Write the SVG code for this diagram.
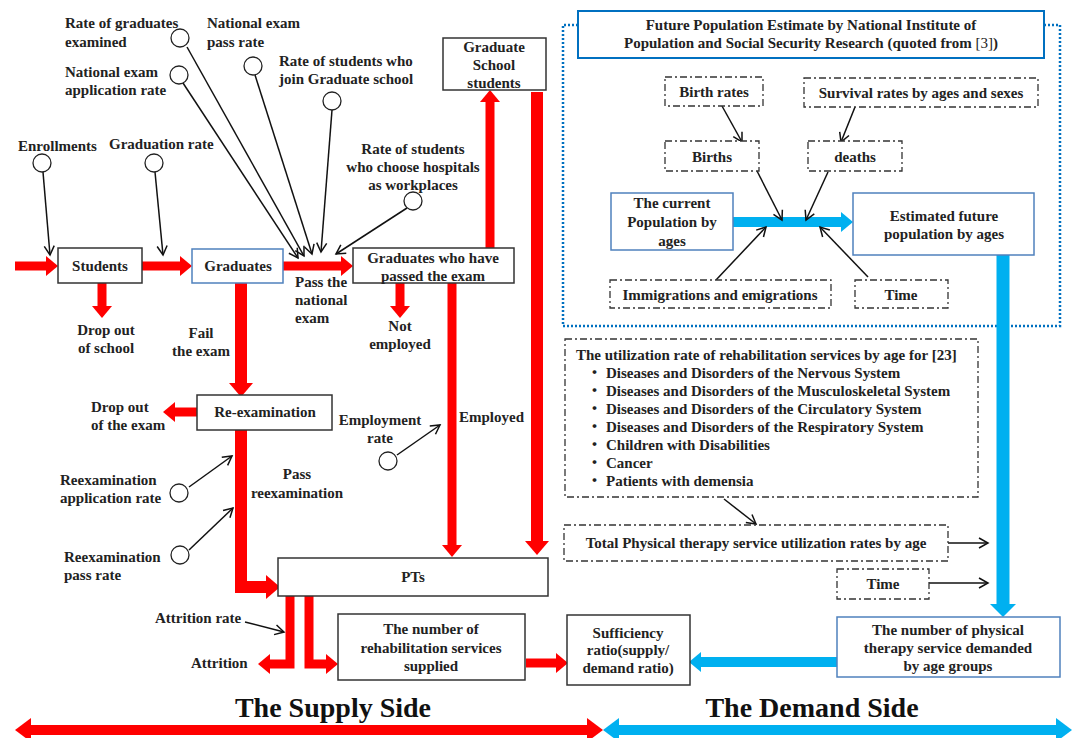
<svg xmlns="http://www.w3.org/2000/svg" width="1073" height="738" viewBox="0 0 1073 738">
<style>
.t{font-family:"Liberation Serif","Times New Roman","Noto Sans CJK JP",serif;font-weight:bold;font-size:15px;fill:#222}
.m{text-anchor:middle}
.big{font-size:28px;fill:#111}
.bx{fill:#fff;stroke:#333;stroke-width:1.5}
.bb{fill:#fff;stroke:#4F81BD;stroke-width:1.5}
.dd{fill:#fff;stroke:#333;stroke-width:1.3;stroke-dasharray:7 3 2 3}
.c{fill:#fff;stroke:#222;stroke-width:1.3}
.k{stroke:#111;stroke-width:1.5;fill:none;marker-end:url(#ka)}
.r9{stroke:#FF0000;stroke-width:9;fill:none;marker-end:url(#ra)}
.r12{stroke:#FF0000;stroke-width:12;fill:none;marker-end:url(#rb)}
.b10{stroke:#00B0F0;stroke-width:10;fill:none;marker-end:url(#ba)}
.b13{stroke:#00B0F0;stroke-width:13;fill:none;marker-end:url(#bb)}
</style>
<defs>
<marker id="ra" markerUnits="userSpaceOnUse" orient="auto" overflow="visible" refX="0" refY="0" markerWidth="1" markerHeight="1"><path d="M0,-10 L12,0 L0,10 z" fill="#FF0000"/></marker>
<marker id="rb" markerUnits="userSpaceOnUse" orient="auto" overflow="visible" refX="0" refY="0" markerWidth="1" markerHeight="1"><path d="M0,-12 L14,0 L0,12 z" fill="#FF0000"/></marker>
<marker id="rd" markerUnits="userSpaceOnUse" orient="auto-start-reverse" overflow="visible" refX="0" refY="0" markerWidth="1" markerHeight="1"><path d="M0,-12 L16,0 L0,12 z" fill="#FF0000"/></marker>
<marker id="ba" markerUnits="userSpaceOnUse" orient="auto" overflow="visible" refX="0" refY="0" markerWidth="1" markerHeight="1"><path d="M0,-10 L12,0 L0,10 z" fill="#00B0F0"/></marker>
<marker id="bb" markerUnits="userSpaceOnUse" orient="auto" overflow="visible" refX="0" refY="0" markerWidth="1" markerHeight="1"><path d="M0,-13 L13,0 L0,13 z" fill="#00B0F0"/></marker>
<marker id="bd" markerUnits="userSpaceOnUse" orient="auto-start-reverse" overflow="visible" refX="0" refY="0" markerWidth="1" markerHeight="1"><path d="M0,-12 L16,0 L0,12 z" fill="#00B0F0"/></marker>
<marker id="ka" markerUnits="userSpaceOnUse" orient="auto" overflow="visible" refX="0" refY="0" markerWidth="1" markerHeight="1"><path d="M-9,-5 L0,0 L-9,5" fill="none" stroke="#111" stroke-width="1.5"/></marker>
</defs>
<rect width="1073" height="738" fill="#fff"/>

<!-- demand-side frame -->
<path id="frame" d="M578,25 H563 V326 H1060 V25 H1044" fill="none" stroke="#0070C0" stroke-width="2.5" stroke-dasharray="2 2"/>

<g id="connectors">
<!-- red flows -->
<path class="r9" d="M15,266 H46"/>
<path class="r9" d="M142,266 H180"/>
<path class="r9" d="M283,266 H341"/>
<path class="r9" d="M102,283 V306"/>
<path class="r12" d="M241,283 V383"/>
<path class="r12" d="M241,430 V587 H266" stroke-linejoin="miter"/>
<path class="r9" d="M197,412 H175"/>
<path class="r9" d="M400,283 V306"/>
<path class="r9" d="M490,248 V102"/>
<path class="r12" d="M537,92 V541"/>
<path class="r9" d="M452,283 V545"/>
<path class="r9" d="M290,596 V664 H270"/>
<path class="r9" d="M309,596 V664 H326"/>
<path class="r9" d="M526,663 H556"/>
<!-- blue flows -->
<path class="b10" d="M733,222 H841"/>
<path class="b13" d="M1003,255 V604"/>
<path class="b10" d="M837,662 H701"/>
<!-- black influences -->
<path class="k" d="M43,172 L50,255"/>
<path class="k" d="M155,172 L163,255"/>
<path class="k" d="M187,47 L304,256"/>
<path class="k" d="M183,83 L298,258"/>
<path class="k" d="M255,75 L312,254"/>
<path class="k" d="M332,110 L321,252"/>
<path class="k" d="M407,208 L336,254"/>
<path class="k" d="M189,487 L232,456"/>
<path class="k" d="M189,550 L233,508"/>
<path class="k" d="M397,455 L440,425"/>
<path class="k" d="M245,622 L284,632"/>
<path class="k" d="M722,106 L742,142"/>
<path class="k" d="M855,107 L841,142"/>
<path class="k" d="M757,171 L782,220"/>
<path class="k" d="M828,172 L806,220"/>
<path class="k" d="M716,280 L766,227"/>
<path class="k" d="M868,277 L820,227"/>
<path class="k" d="M724,499 L756,524"/>
<path class="k" d="M948,543 L988,543"/>
<path class="k" d="M929,583 L988,583"/>
<!-- side arrows -->
<path d="M31,730 H587" stroke="#FF0000" stroke-width="10" fill="none" marker-start="url(#rd)" marker-end="url(#rd)"/>
<path d="M619,730 H1056" stroke="#00B0F0" stroke-width="10" fill="none" marker-start="url(#bd)" marker-end="url(#bd)"/>
</g>

<!-- rate nodes (circles) -->
<g id="rate-graduates-examined"><circle class="c" cx="180" cy="38" r="9"/><text class="t" x="65" y="28">Rate of graduates</text><text class="t" x="65" y="47">examined</text></g>
<g id="national-exam-pass-rate"><circle class="c" cx="253" cy="66" r="9"/><text class="t" x="207" y="28">National exam</text><text class="t" x="207" y="47">pass rate</text></g>
<g id="national-exam-application-rate"><circle class="c" cx="179" cy="75" r="9"/><text class="t" x="65" y="77">National exam</text><text class="t" x="65" y="95">application rate</text></g>
<g id="graduate-school-rate"><circle class="c" cx="332" cy="101" r="9"/><text class="t" x="279" y="66">Rate of students who</text><text class="t" x="279" y="84">join Graduate school</text></g>
<g id="enrollments"><circle class="c" cx="42" cy="163" r="9"/><text class="t" x="18" y="151">Enrollments</text></g>
<g id="graduation-rate"><circle class="c" cx="154" cy="163" r="9"/><text class="t" x="109" y="149">Graduation rate</text></g>
<g id="hospital-rate"><circle class="c" cx="413" cy="201" r="9"/><text class="t m" x="413" y="154">Rate of students</text><text class="t m" x="413" y="172">who choose hospitals</text><text class="t m" x="413" y="190">as workplaces</text></g>
<g id="reexam-application-rate"><circle class="c" cx="179" cy="493" r="9"/><text class="t" x="60" y="485">Reexamination</text><text class="t" x="60" y="503">application rate</text></g>
<g id="reexam-pass-rate"><circle class="c" cx="180" cy="555" r="9"/><text class="t" x="64" y="562">Reexamination</text><text class="t" x="64" y="580">pass rate</text></g>
<g id="employment-rate"><circle class="c" cx="388" cy="461" r="9"/><text class="t m" x="380" y="425">Employment</text><text class="t m" x="380" y="443">rate</text></g>
<g id="attrition-rate"><text class="t" x="155" y="623">Attrition rate</text></g>

<!-- flow labels -->
<g id="labels">
<text class="t" x="295" y="287">Pass the</text><text class="t" x="295" y="305">national</text><text class="t" x="295" y="323">exam</text>
<text class="t m" x="106" y="335">Drop out</text><text class="t m" x="106" y="353">of school</text>
<text class="t m" x="201" y="338">Fail</text><text class="t m" x="201" y="356">the exam</text>
<text class="t m" x="400" y="331">Not</text><text class="t m" x="400" y="349">employed</text>
<text class="t" x="91" y="412">Drop out</text><text class="t" x="91" y="430">of the exam</text>
<text class="t m" x="297" y="479">Pass</text><text class="t m" x="297" y="498">reexamination</text>
<text class="t" x="459" y="422">Employed</text>
<text class="t" x="191" y="668">Attrition</text>
<text class="t big m" x="333" y="717">The Supply Side</text>
<text class="t big m" x="812" y="717">The Demand Side</text>
</g>

<!-- supply nodes -->
<g id="students"><rect class="bx" x="58" y="248" width="84" height="35"/><text class="t m" x="100" y="271">Students</text></g>
<g id="graduates"><rect class="bb" x="192" y="249" width="91" height="34"/><text class="t m" x="238" y="271">Graduates</text></g>
<g id="graduates-passed"><rect class="bx" x="353" y="248" width="161" height="35"/><text class="t m" x="433" y="263">Graduates who have</text><text class="t m" x="433" y="281">passed the exam</text></g>
<g id="graduate-school"><rect class="bx" x="443" y="38" width="103" height="52"/><text class="t m" x="494" y="52">Graduate</text><text class="t m" x="494" y="70">School</text><text class="t m" x="494" y="88">students</text></g>
<g id="re-examination"><rect class="bx" x="197" y="395" width="135" height="35"/><text class="t m" x="265" y="417">Re-examination</text></g>
<g id="pts"><rect class="bx" x="278" y="558" width="270" height="38"/><text class="t m" x="413" y="582">PTs</text></g>
<g id="rehab-supplied"><rect class="bx" x="338" y="614" width="187" height="66"/><text class="t m" x="431" y="634">The number of</text><text class="t m" x="431" y="653">rehabilitation services</text><text class="t m" x="431" y="671">supplied</text></g>
<g id="sufficiency"><rect class="bx" x="567" y="615" width="123" height="70"/><text class="t m" x="628" y="638">Sufficiency</text><text class="t m" x="628" y="655">ratio(supply/</text><text class="t m" x="628" y="673">demand ratio)</text></g>

<!-- demand nodes -->
<g id="title"><rect x="578" y="11" width="466" height="47" fill="#fff" stroke="#0070C0" stroke-width="2"/><text class="t m" x="811" y="30">Future Population Estimate by National Institute of</text><text class="t m" x="811" y="48">Population and Social Security Research (quoted from <tspan font-weight="normal">[3]</tspan>)</text></g>
<g id="birth-rates"><rect class="dd" x="665" y="77" width="98" height="29"/><text class="t m" x="714" y="97">Birth rates</text></g>
<g id="survival-rates"><rect class="dd" x="804" y="78" width="234" height="29"/><text class="t m" x="921" y="98">Survival rates by ages and sexes</text></g>
<g id="births"><rect class="dd" x="665" y="141" width="94" height="30"/><text class="t m" x="712" y="162">Births</text></g>
<g id="deaths"><rect class="dd" x="808" y="141" width="94" height="30"/><text class="t m" x="855" y="162">deaths</text></g>
<g id="current-population"><rect class="bb" x="611" y="193" width="122" height="57"/><text class="t m" x="672" y="208">The current</text><text class="t m" x="672" y="227">Population by</text><text class="t m" x="672" y="246">ages</text></g>
<g id="estimated-population"><rect class="bb" x="853" y="193" width="181" height="62"/><text class="t m" x="944" y="221">Estimated future</text><text class="t m" x="944" y="239">population by ages</text></g>
<g id="migrations"><rect class="dd" x="610" y="280" width="221" height="28"/><text class="t m" x="720" y="300">Immigrations  and emigrations</text></g>
<g id="time1"><rect class="dd" x="855" y="280" width="93" height="28"/><text class="t m" x="901" y="300">Time</text></g>
<g id="utilization"><rect class="dd" x="565" y="339" width="413" height="158"/>
<text class="t" x="576" y="360">The utilization rate of rehabilitation services by age for [23]</text>
<text class="t" y="378"><tspan x="587">・</tspan><tspan x="606">Diseases and Disorders of the Nervous System</tspan></text>
<text class="t" y="396"><tspan x="587">・</tspan><tspan x="606">Diseases and Disorders of the Musculoskeletal System</tspan></text>
<text class="t" y="414"><tspan x="587">・</tspan><tspan x="606">Diseases and Disorders of the Circulatory System</tspan></text>
<text class="t" y="432"><tspan x="587">・</tspan><tspan x="606">Diseases and Disorders of the Respiratory System</tspan></text>
<text class="t" y="450"><tspan x="587">・</tspan><tspan x="606">Children with Disabilities</tspan></text>
<text class="t" y="468"><tspan x="587">・</tspan><tspan x="606">Cancer</tspan></text>
<text class="t" y="486"><tspan x="587">・</tspan><tspan x="606">Patients with demensia</tspan></text>
</g>
<g id="total-pt-rate"><rect class="dd" x="564" y="525" width="384" height="36"/><text class="t m" x="756" y="548">Total Physical therapy service utilization rates by age</text></g>
<g id="time2"><rect class="dd" x="837" y="569" width="92" height="30"/><text class="t m" x="883" y="589">Time</text></g>
<g id="pt-demand"><rect class="bb" x="837" y="617" width="223" height="60"/><text class="t m" x="948" y="635">The number of physical</text><text class="t m" x="948" y="653">therapy service demanded</text><text class="t m" x="948" y="671">by age groups</text></g>
</svg>
